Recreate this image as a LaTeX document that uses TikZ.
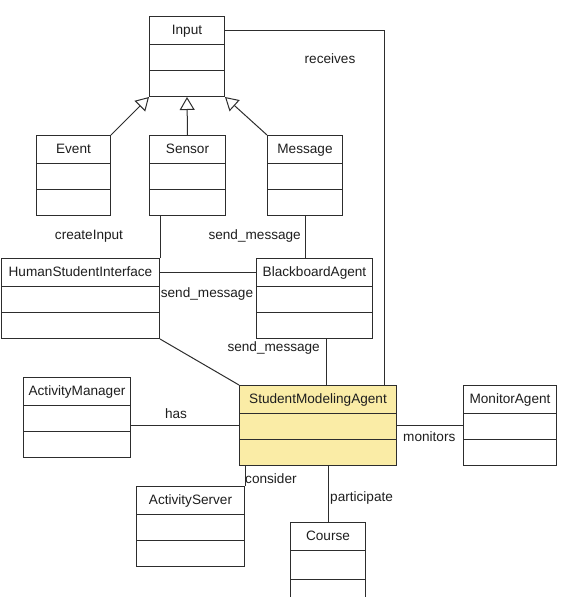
\documentclass[tikz,border=0pt]{standalone}
\usepackage{fontspec}
\setmainfont{Liberation Sans}
\usetikzlibrary{shapes.multipart, arrows.meta}
\definecolor{umlline}{RGB}{45,45,45}
\definecolor{umltext}{RGB}{30,30,30}
\definecolor{agentyellow}{RGB}{250,236,166}
\newcommand{\classfont}{\fontsize{13.6}{15}\selectfont}
\tikzset{
  umlclass/.style={rectangle split, rectangle split parts=3, draw=umlline,
    line width=1pt, fill=white, text=umltext, font=\classfont, align=center,
    inner xsep=0pt, inner ysep=7pt, text height=10pt, text depth=3pt,
    rectangle split empty part height=11pt, rectangle split empty part depth=0pt,
    anchor=north west},
  agentclass/.style={umlclass, fill=agentyellow},
  assoc/.style={draw=umlline, line width=1pt},
  gen/.style={assoc, -{Triangle[open, length=13pt, width=15pt, fill=white]}},
  lbl/.style={font=\classfont, text=umltext, inner sep=0pt},
}

\begin{document}
\begin{tikzpicture}[x=1pt, y=-1pt]
  \useasboundingbox (0,0) rectangle (564,597);
  % classes
  \node[umlclass, text width=75pt] (input) at (149,16) {Input};
  \node[umlclass, text width=74pt] (event) at (36,135) {Event};
  \node[umlclass, text width=76pt] (sensor) at (149,135) {Sensor};
  \node[umlclass, text width=75pt] (message) at (267,135) {Message};
  \node[umlclass, text width=158pt] (hsi) at (1,258) {HumanStudentInterface};
  \node[umlclass, text width=116pt] (bba) at (256,258) {BlackboardAgent};
  \node[umlclass, text width=107pt] (actman) at (23,377) {ActivityManager};
  \node[agentclass, text width=157pt] (sma) at (239,385) {StudentModelingAgent};
  \node[umlclass, text width=93pt] (monitor) at (463,385) {MonitorAgent};
  \node[umlclass, text width=108pt] (actserver) at (136,486) {ActivityServer};
  \node[umlclass, text width=75pt, rectangle split empty part height=14pt]
    (course) at (290,522) {Course};
  \coordinate (recv) at (384,385);
  \path (bba.south) ++(12,0) coordinate (bbfoot);

  % generalisation
  \draw[gen] (event.north east) -- (input.south west);
  \draw[gen] (sensor.north) -- (input.south);
  \draw[gen] (message.north west) -- (input.south east);

  % associations
  \draw[assoc] (input.text east) -| (recv);
  \draw[assoc] (hsi.north east) -- (hsi.north east |- sensor.south);
  \draw[assoc] (message.south) -- (message.south |- bba.north);
  \draw[assoc] (bba.text west) -- (bba.text west -| hsi.east);
  \draw[assoc] (hsi.south east) -- (sma.north west);
  \draw[assoc] (bbfoot) -- (bbfoot |- sma.north);
  \draw[assoc] (sma.west) -- (sma.west -| actman.east);
  \draw[assoc] (sma.east) -- (sma.east -| monitor.west);
  \draw[assoc] (actserver.north east) -- (actserver.north east |- sma.south);
  \draw[assoc] (course.north) -- (course.north |- sma.south);

  % labels
  \node[lbl] (lrecv) at (330,59) {receives};
  \node[lbl] (lcreate) at (89,236) {createInput};
  \node[lbl, anchor=east] (lsend1) at (301,236) {send\_message};
  \node[lbl] (lsend2) at (207,294) {send\_message};
  \node[lbl, anchor=east] (lsend3) at (320,348) {send\_message};
  \node[lbl] (lhas) at (176,414) {has};
  \node[lbl, anchor=west] (lmon) at (403,437) {monitors};
  \node[lbl, anchor=west] (lcons) at (245,479) {consider};
  \node[lbl, anchor=west] (lpart) at (330,498) {participate};
\end{tikzpicture}
\end{document}
